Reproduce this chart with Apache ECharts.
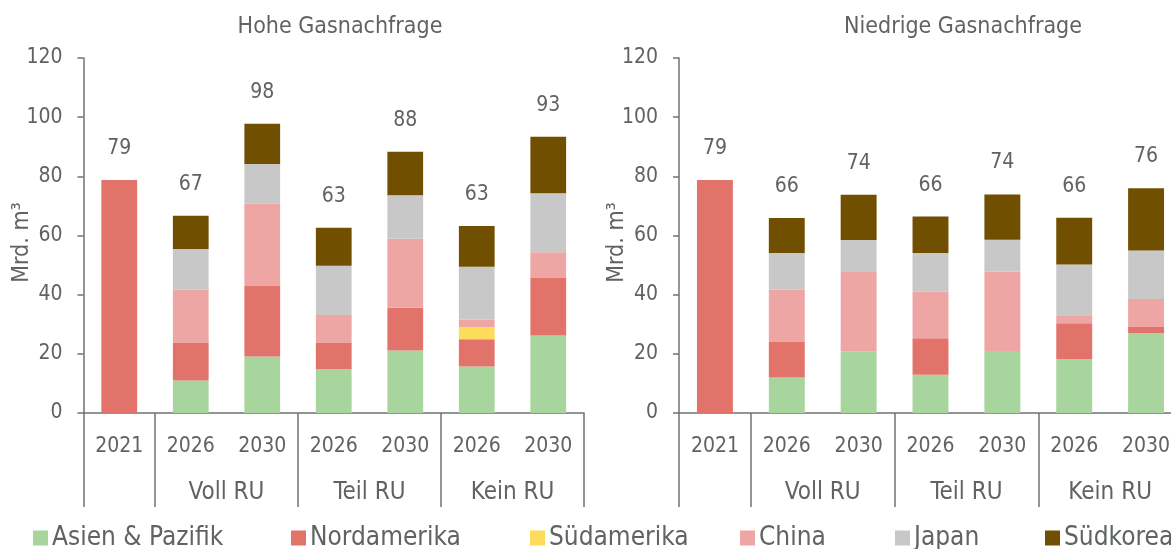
<!DOCTYPE html>
<html>
<head>
<meta charset="utf-8">
<title>Gasnachfrage</title>
<script src="https://cdn.jsdelivr.net/npm/echarts@6/dist/echarts.min.js"></script>
<style>
  html, body { margin: 0; padding: 0; background: #ffffff; }
  #chart { width: 1171px; height: 549px; }
</style>
</head>
<body>
<div id="chart"></div>
<script>
// Categories along the x axis (year) and the scenario groups below them
const years = ['2021', '2026', '2030', '2026', '2030', '2026', '2030'];
const groupLabels = ['Voll RU', 'Teil RU', 'Kein RU'];
const panelTitles = ['Hohe Gasnachfrage', 'Niedrige Gasnachfrage'];
const regions = ['Asien & Pazifik', 'Nordamerika', 'Südamerika', 'China', 'Japan', 'Südkorea'];
const yTicks = { min: 0, max: 120, interval: 20 };

// Hohe Gasnachfrage, Mrd. m³
const highAsia        = [0, 11.0, 19.1, 14.8, 21.1, 15.7, 26.2];
const highNorthAm     = [78.8, 12.7, 23.8, 8.9, 14.5, 9.2, 19.4];
const highSouthAm     = [0, 0, 0, 0, 0, 4.2, 0];
const highChina       = [0, 18.0, 27.9, 9.4, 23.3, 2.5, 8.7];
const highJapan       = [0, 13.7, 13.4, 16.7, 14.7, 17.8, 20.0];
const highKorea       = [0, 11.3, 13.6, 12.8, 14.7, 13.8, 19.1];

// Niedrige Gasnachfrage, Mrd. m³
const lowAsia         = [0, 12.0, 20.9, 12.9, 21.0, 18.2, 27.0];
const lowNorthAm      = [78.8, 12.0, 0, 12.4, 0, 12.1, 2.1];
const lowSouthAm      = [0, 0, 0, 0, 0, 0, 0];
const lowChina        = [0, 17.7, 26.8, 15.7, 26.8, 2.5, 9.4];
const lowJapan        = [0, 12.4, 10.8, 13.1, 10.8, 17.4, 16.4];
const lowKorea        = [0, 11.8, 15.3, 12.3, 15.3, 15.8, 21.1];

const colors = ['#a8d59e', '#e2736b', '#fddc5c', '#eda6a3', '#c8c8c8', '#714f00'];
const FONT = 'DejaVu Sans Condensed';
const TEXT_COLOR = '#5f6362';
const LINE_COLOR = '#6f7372';

const panels = [
  [highAsia, highNorthAm, highSouthAm, highChina, highJapan, highKorea],
  [lowAsia, lowNorthAm, lowSouthAm, lowChina, lowJapan, lowKorea]
];

// Layout of the two panels (the right one runs slightly past the edge)
const gridBoxes = [
  { left: 83.5, width: 500.5 },
  { left: 679, width: 503 }
];
const titleCenters = [335, 958];

const grids = [], xAxes = [], yAxes = [], series = [], titles = [];

panels.forEach((panel, p) => {
  grids.push(Object.assign({ top: 58, height: 355, outerBoundsMode: 'none', containLabel: false }, gridBoxes[p]));

  titles.push({
    text: panelTitles[p],
    left: titleCenters[p],
    textAlign: 'center',
    top: 11,
    textStyle: { fontFamily: FONT, fontSize: 23, fontWeight: 'normal', color: TEXT_COLOR }
  });

  yAxes.push({
    type: 'value', gridIndex: p,
    min: yTicks.min, max: yTicks.max, interval: yTicks.interval,
    name: 'Mrd. m³', nameLocation: 'middle', nameGap: 50, nameRotate: 90,
    nameMoveOverlap: false,
    nameTextStyle: { fontFamily: FONT, fontSize: 23, color: TEXT_COLOR, padding: [0, 14, 0, 0] },
    axisLine: { show: true, lineStyle: { color: LINE_COLOR, width: 1.5 } },
    axisTick: { show: true, length: 6, lineStyle: { color: LINE_COLOR, width: 1.5 } },
    splitLine: { show: false },
    axisLabel: { margin: 21, fontFamily: FONT, fontSize: 21, color: TEXT_COLOR }
  });

  // Year labels directly under the bars
  xAxes.push({
    type: 'category', gridIndex: p, data: years, position: 'bottom',
    axisLine: { show: true, lineStyle: { color: LINE_COLOR, width: 1.5 } },
    axisTick: { show: false },
    axisLabel: { margin: 23, fontFamily: FONT, fontSize: 21, color: TEXT_COLOR }
  });

  // Scenario row: separators between groups and the group names
  xAxes.push({
    type: 'value', gridIndex: p, position: 'bottom', min: 0, max: years.length,
    axisLine: { show: false },
    splitLine: { show: false },
    axisTick: { show: true, length: 94, customValues: [0, 1, 3, 5, 7],
                lineStyle: { color: LINE_COLOR, width: 1.5 } },
    axisLabel: { show: true, margin: 68, customValues: [2, 4, 6],
                 fontFamily: FONT, fontSize: 24, color: TEXT_COLOR,
                 formatter: v => groupLabels[Math.round(v / 2) - 1] || '' }
  });

  const totals = years.map((_, i) => panel.reduce((s, arr) => s + arr[i], 0));

  panel.forEach((values, r) => {
    const isTop = r === panel.length - 1;
    series.push({
      name: regions[r], type: 'bar', stack: 'total' + p,
      xAxisIndex: p * 2, yAxisIndex: p,
      barWidth: '50%',
      data: values,
      itemStyle: { color: colors[r] },
      label: isTop ? {
        show: true, position: 'top', distance: 21,
        fontFamily: FONT, fontSize: 21, color: TEXT_COLOR,
        formatter: prm => String(Math.round(totals[prm.dataIndex]))
      } : { show: false },
      emphasis: { disabled: true }
    });
  });
});

// One legend entry per region, spread along the bottom edge
const legendLeft = [33, 291, 530, 740, 895, 1045];
const legends = regions.map((name, i) => ({
  data: [name], left: legendLeft[i], top: 525, padding: 0,
  icon: 'rect', itemWidth: 15, itemHeight: 15, itemGap: 0,
  textStyle: { fontFamily: FONT, fontSize: 26, color: TEXT_COLOR, padding: [0, 0, 0, -1] },
  selectedMode: false
}));

const chart = echarts.init(document.getElementById('chart'), null, { renderer: 'canvas' });
chart.setOption({
  backgroundColor: '#ffffff',
  animation: false,
  color: colors,
  title: titles,
  legend: legends,
  grid: grids,
  xAxis: xAxes,
  yAxis: yAxes,
  series: series
});
</script>
</body>
</html>
